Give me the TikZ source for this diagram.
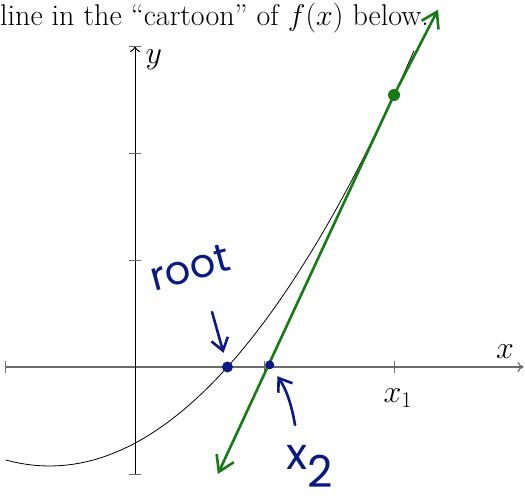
\RequirePackage{fix-cm}
\documentclass[tikz,border=0pt]{standalone}
\usepackage{fontspec}
\usetikzlibrary{arrows.meta,positioning}
\newfontfamily\handfont{Poppins}
\definecolor{axisgray}{HTML}{6A6A6A}
\definecolor{marker}{HTML}{177A17}
\definecolor{navy}{HTML}{0A1A82}

\begin{document}
\begin{tikzpicture}[x=129.5pt,y=107pt,
      axisline/.style={line width=1pt,-{To[length=6pt,width=10pt]}},
      tickmark/.style={line width=.9pt,draw=axisgray},
      curve/.style={line width=.8pt,draw=black},
      tangent/.style={line width=2.6pt,draw=marker,line cap=round,line join=round,
                      {Straight Barb[length=15pt,width=19pt]}-{Straight Barb[length=15pt,width=19pt]}},
      dot/.style={circle,inner sep=0pt,minimum size=11pt},
      hand/.style={font=\handfont\fontsize{40}{44}\selectfont,text=navy,inner sep=0pt},
      handarrow/.style={-{Straight Barb[length=12pt,width=17pt]},line width=2.6pt,draw=navy,line cap=round},
      axislabel/.style={font=\fontsize{32}{36}\selectfont,inner sep=0pt}]
    \useasboundingbox (-1.0425,-1.271) rectangle (3.0116,3.4299);
    \node[anchor=base west,inner sep=0pt,font=\fontsize{30}{36}\selectfont] (caption) at (-1.0425,3.196) {line in the “cartoon” of $f(x)$ below.};
    % axes
    \draw[axisline,draw=axisgray,line width=1.3pt] (-1,0) -- (3,0);
    \draw[axisline] (0,-1) -- (0,3);
    \foreach \t in {-1,1,2}
      \draw[tickmark] (\t,-.056) -- (\t,.056);
    \foreach \t in {-1,1,2,3}
      \draw[tickmark] (-.046,\t) -- (.046,\t);
    \node[axislabel] (ylab) at (.145,2.87) {$y$};
    \node[axislabel] (xlab) at (2.857,.14) {$x$};
    \node[axislabel] (x1lab) at (2.03,-.29) {$x_1$};
    % f(x)
    \draw[curve,domain=-1:2.155,samples=80] plot (\x,{.49*(\x+.66)^2-.925});
    % tangent at x_1
    \node[dot,fill=marker,minimum size=12pt] (touch) at (2,2.542) {};
    \coordinate (lowtip) at (.64,-1.0);
    \coordinate (hightip) at (2.34,3.34);
    \draw[tangent] (lowtip) -- (touch.center) -- (hightip);
    % root and x_2
    \node[dot,fill=navy] (rootdot) at (.714,0) {};
    \node[dot,fill=navy,minimum size=9pt] (x2dot) at (1.04,.02) {};
    \node[hand,rotate=15] (rootlab) at (.425,.93) {root};
    \coordinate (rootfrom) at (.595,.514);
    \draw[handarrow,shorten >=9pt] (rootfrom) -- (rootdot);
    \node[hand,font=\handfont\fontsize{44}{48}\selectfont] (x2lab) at (1.351,-.93) {x\raisebox{-.4em}{2}};
    \coordinate (x2from) at (1.236,-.542);
    \draw[handarrow,shorten >=9pt] (x2from) to[bend right=12] (x2dot);
\end{tikzpicture}
\end{document}
